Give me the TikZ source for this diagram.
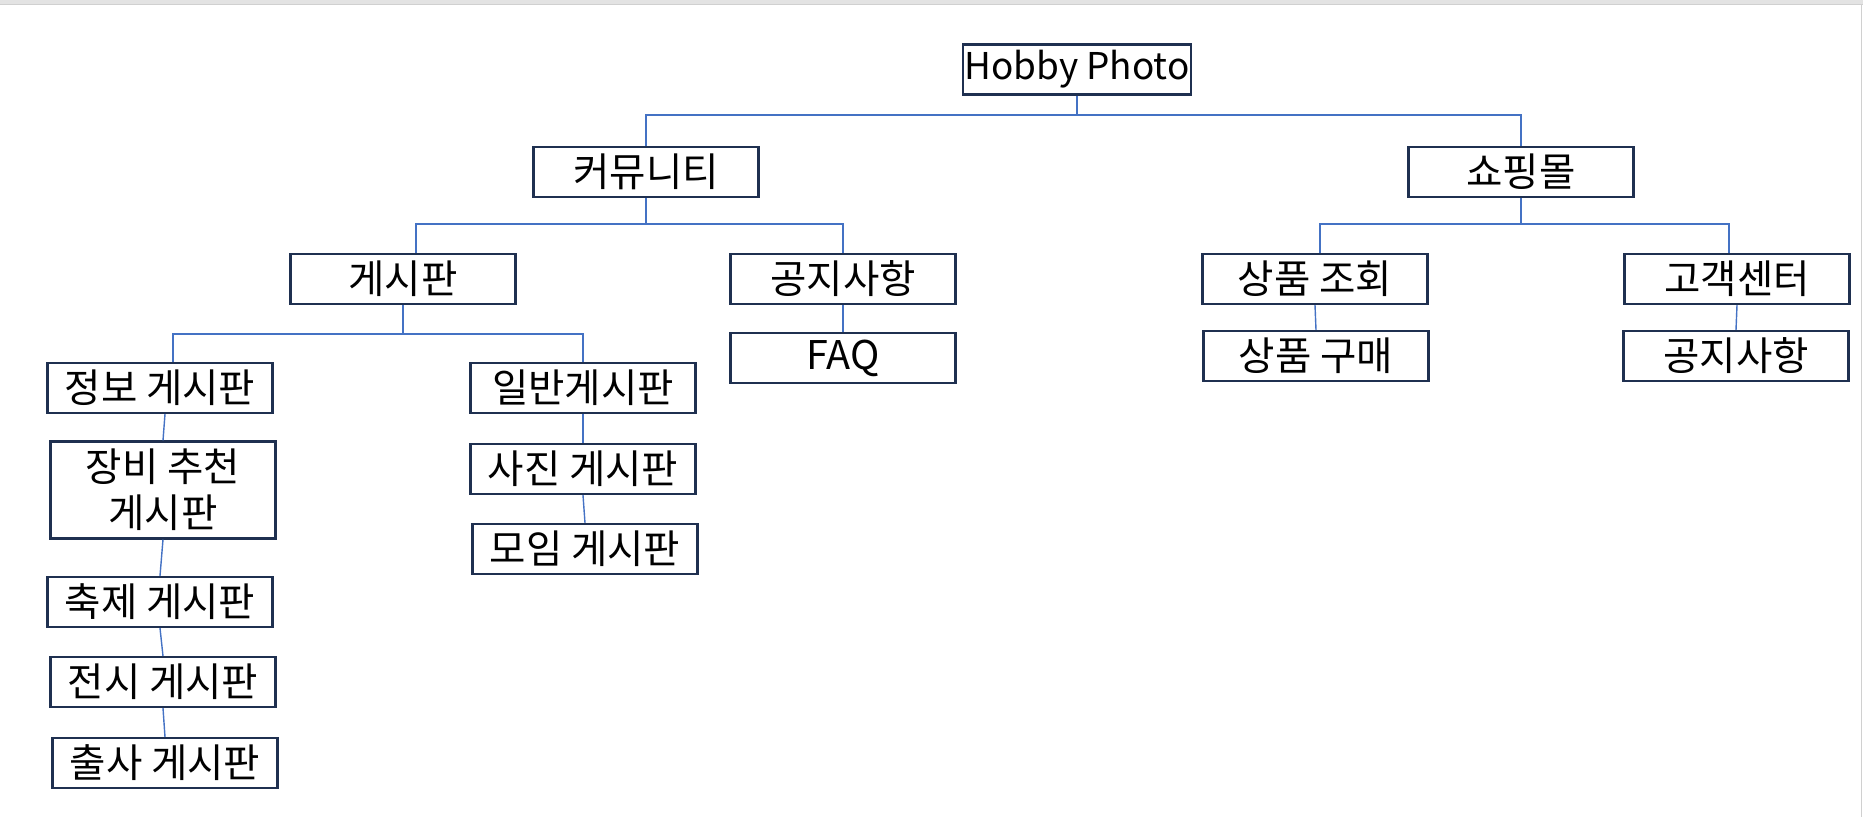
\documentclass[tikz,border=0pt]{standalone}
\usepackage{fontspec}
\setmainfont{Noto Sans CJK KR}
\usepackage{tikz}
\usetikzlibrary{calc}
\definecolor{boxline}{HTML}{1F3050}
\definecolor{linkblue}{HTML}{4472C4}
\definecolor{framegray}{HTML}{D0D0D0}
\tikzset{menu box/.style={draw=boxline,line width=1.2pt,rectangle,minimum width=4.5cm,minimum height=1cm,inner sep=1pt,font=\fontsize{22.5}{26}\selectfont,text=black,align=center}}
\tikzset{menu link/.style={draw=linkblue,line width=0.8pt}}

\begin{document}
\begin{tikzpicture}[x=0.02cm,y=-0.02cm]

            \def \busTop{115}
            \def \busMid{224}
            \def \busLow{334}

            \useasboundingbox (0,0) rectangle (1863,817);
            \fill[framegray!60] (0,0) rectangle (1863,4);
            \draw[framegray, line width=0.8pt] (0,4.5) -- (1863,4.5);
            \draw[framegray, line width=0.8pt] (1861.5,4.5) -- (1861.5,817);

            % root and first level
            \node[menu box, font=\fontsize{21}{25}\selectfont] (hobby) at (1077,69.5) {Hobby Photo};
            \node[menu box] (comm)  at (646,172)   {커뮤니티};
            \node[menu box] (shop)  at (1521,172)  {쇼핑몰};

            % community
            \node[menu box] (board)  at (403,279) {게시판};
            \node[menu box] (notice) at (843,279) {공지사항};
            \node[menu box] (faq)    at (843,358) {FAQ};

            % shopping mall
            \node[menu box] (view)   at (1315,279) {상품 조회};
            \node[menu box] (buy)    at (1316,356) {상품 구매};
            \node[menu box] (center) at (1737,279) {고객센터};
            \node[menu box] (notice2) at (1736,356) {공지사항};

            % boards
            \node[menu box] (info)     at (160,388) {정보 게시판};
            \node[menu box, minimum height=1.94cm] (equip) at (163,490) {장비 추천\\게시판};
            \node[menu box] (festival) at (160,602) {축제 게시판};
            \node[menu box] (exhibit)  at (163,682) {전시 게시판};
            \node[menu box] (outing)   at (165,763) {출사 게시판};
            \node[menu box] (general)  at (583,388) {일반게시판};
            \node[menu box] (photo)    at (583,469) {사진 게시판};
            \node[menu box] (meet)     at (585,549) {모임 게시판};

            \coordinate (busA) at (hobby.south |- 0,\busTop);
            \coordinate (busB) at (comm.south |- 0,\busMid);
            \coordinate (busC) at (shop.south |- 0,\busMid);
            \coordinate (busD) at (board.south |- 0,\busLow);

            \draw[menu link] (hobby.south) -- (busA);
            \draw[menu link] (comm.north) |- (busA) -| (shop.north);
            \draw[menu link] (comm.south) -- (busB);
            \draw[menu link] ([xshift=0.26cm]board.north) |- (busB) -| (notice.north);
            \draw[menu link] (shop.south) -- (busC);
            \draw[menu link] ([xshift=0.1cm]view.north) |- (busC) -| ([xshift=-0.16cm]center.north);
            \draw[menu link] (board.south) -- (busD);
            \draw[menu link] ([xshift=0.26cm]info.north) |- (busD) -| (general.north);

            \draw[menu link] (notice.south) -- (faq.north);
            \draw[menu link] (view.south) -- (buy.north);
            \draw[menu link] (center.south) -- (notice2.north);
            \draw[menu link] ([xshift=0.1cm]info.south) -- (equip.north);
            \draw[menu link] (equip.south) -- (festival.north);
            \draw[menu link] (festival.south) -- (exhibit.north);
            \draw[menu link] (exhibit.south) -- (outing.north);
            \draw[menu link] (general.south) -- (photo.north);
            \draw[menu link] (photo.south) -- (meet.north);

          \end{tikzpicture}
\end{document}
